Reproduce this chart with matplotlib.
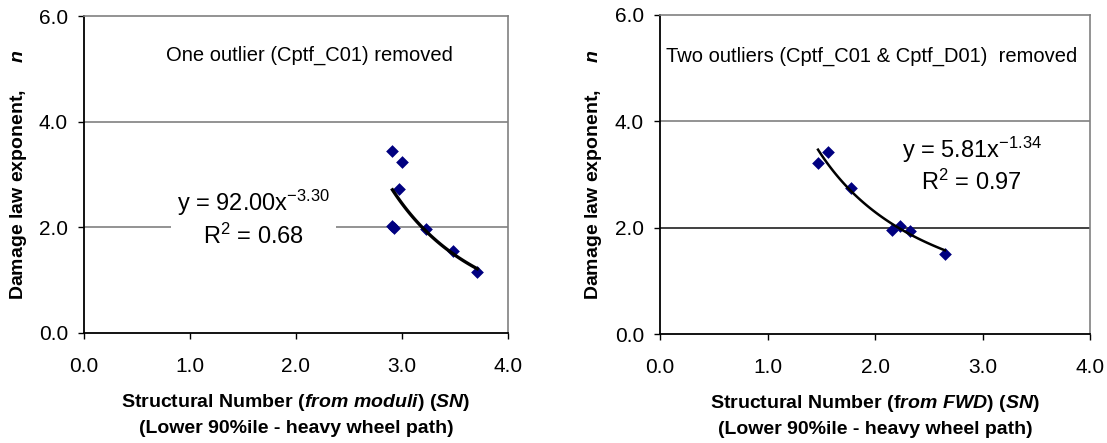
import numpy as np
import matplotlib
matplotlib.use('Agg')
import matplotlib.pyplot as plt

plt.rcParams['font.family'] = ['Liberation Sans', 'DejaVu Sans']
plt.rcParams['mathtext.fontset'] = 'custom'
plt.rcParams['mathtext.rm'] = 'Liberation Sans'
plt.rcParams['mathtext.it'] = 'Liberation Sans:italic:bold'
plt.rcParams['mathtext.bf'] = 'Liberation Sans:bold'

# damage law exponent vs SN from back-calculated moduli (Cptf_C01 left out)
sn_moduli = [2.91, 3.00, 2.97, 2.91, 2.92, 3.23, 3.48, 3.71]
n_moduli = [3.45, 3.23, 2.73, 2.03, 1.98, 1.96, 1.56, 1.16]
fit_moduli = (92.00, -3.30, 0.68)

# damage law exponent vs SN from FWD (Cptf_C01 and Cptf_D01 left out)
sn_fwd = [1.47, 1.56, 1.78, 2.16, 2.23, 2.33, 2.65]
n_fwd = [3.22, 3.43, 2.74, 1.95, 2.03, 1.94, 1.50]
fit_fwd = (5.81, -1.34, 0.97)

x_ticks = [0.0, 1.0, 2.0, 3.0, 4.0]
y_ticks = [0.0, 2.0, 4.0, 6.0]

note_moduli = 'One outlier (Cptf_C01) removed'
note_fwd = 'Two outliers (Cptf_C01 & Cptf_D01)  removed'
xlab_moduli = (r'Structural Number ($\mathit{from\ moduli}$) ($\mathit{SN}$)'
               '\n(Lower 90%ile - heavy wheel path)')
xlab_fwd = (r'Structural Number (f$\mathit{rom\ FWD}$) ($\mathit{SN}$)'
            '\n(Lower 90%ile - heavy wheel path)')
ylab = r'Damage law exponent,     $\mathit{n}$'


def draw_panel(ax, sn, n, fit, note, note_xy, eq_xy, xlab, trend_lw, mid_grid):
    a, b, r2 = fit
    ax.set_xlim(0, 4)
    ax.set_ylim(0, 6)

    # horizontal gridlines at the inner ticks
    ax.axhline(y_ticks[1], color=mid_grid, lw=1.2, zorder=1)
    ax.axhline(y_ticks[2], color='#808080', lw=1.2, zorder=1)

    ax.scatter(sn, n, marker='D', s=42, color='#000080', zorder=4, linewidths=0)

    # power trend line over the data range
    xs = np.linspace(min(sn), max(sn), 100)
    ax.plot(xs, a * xs ** b, color='black', lw=trend_lw, zorder=5)

    eq = ('y = %.2fx$\\mathregular{^{%.2f}}$\nR$\\mathregular{^2}$ = %.2f' % (a, b, r2))
    ax.text(eq_xy[0], eq_xy[1], eq, ha='center', va='center', multialignment='center',
            fontsize=17, linespacing=1.25, zorder=6,
            bbox=dict(facecolor='white', edgecolor='none', pad=4.5))

    ax.text(note_xy[0], note_xy[1], note, ha='left', va='center', fontsize=14.5)

    ax.set_xticks(x_ticks)
    ax.set_yticks(y_ticks)
    ax.set_xticklabels(['%.1f' % v for v in x_ticks])
    ax.set_yticklabels(['%.1f' % v for v in y_ticks])
    ax.tick_params(direction='out', length=4.5, width=1, labelsize=15, colors='black')
    ax.tick_params(axis='x', pad=13)
    ax.tick_params(axis='y', pad=7)

    for side in ['left', 'bottom']:
        ax.spines[side].set_color('black')
        ax.spines[side].set_linewidth(1.3)
    for side in ['top', 'right']:
        ax.spines[side].set_color('#808080')
        ax.spines[side].set_linewidth(1.2)

    ax.set_xlabel(xlab, fontsize=14, fontweight='bold', labelpad=11, linespacing=1.6)
    ax.text(-0.155, 0.5, ylab, transform=ax.transAxes, rotation=90,
            ha='center', va='center', fontsize=14, fontweight='bold')


fig = plt.figure(figsize=(11.07, 4.43), dpi=100)
ax1 = fig.add_axes([84 / 1107, 110 / 443, 424 / 1107, 317 / 443])
ax2 = fig.add_axes([660 / 1107, 109 / 443, 430 / 1107, 319 / 443])

draw_panel(ax1, sn_moduli, n_moduli, fit_moduli, note_moduli, (0.77, 5.25),
           (1.60, 2.17), xlab_moduli, 2.4, '#808080')
draw_panel(ax2, sn_fwd, n_fwd, fit_fwd, note_fwd, (0.06, 5.23),
           (2.90, 3.18), xlab_fwd, 1.8, '#202020')

fig.savefig('out.png', dpi=100)
